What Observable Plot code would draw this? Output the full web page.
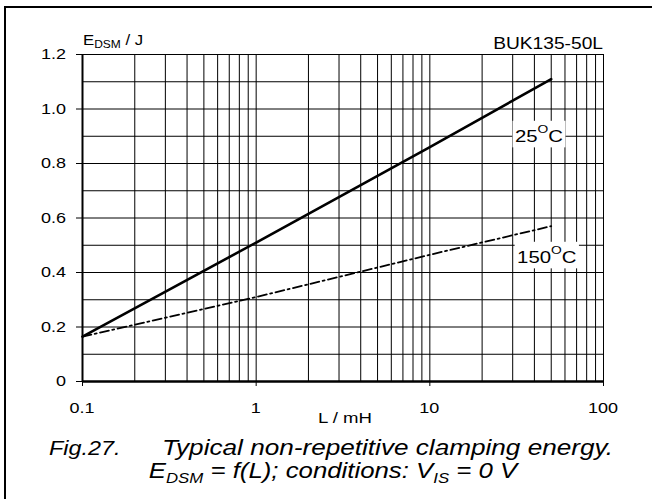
<!DOCTYPE html>
<html><head><meta charset="utf-8">
<script src="https://cdn.jsdelivr.net/npm/d3@7"></script>
<script src="https://cdn.jsdelivr.net/npm/@observablehq/plot@0.6"></script>
<style>
body{margin:0;background:#fff;}
#wrap{position:relative;width:652px;height:499px;overflow:hidden;font-family:"Liberation Sans",Arial,sans-serif;background:#fff;}
#frame{position:absolute;left:4px;top:6px;width:700px;height:600px;border-left:2px solid #000;border-top:2px solid #000;}
#chart{position:absolute;left:0;top:0;}
#cap{position:absolute;left:0;top:430px;}
</style></head>
<body><div id="wrap"><div id="frame"></div><div id="chart"></div><div id="cap"></div></div>
<script>
// Data (L in mH, E_DSM in J)
const inductance = [0.1, 1, 10, 50];
const energy25 = [0.165, 0.51, 0.86, 1.11];
const energy150 = [0.165, 0.31, 0.465, 0.57];

const xTicks = [0.1, 1, 10, 100];
const xTickLabels = ["0.1", "1", "10", "100"];
const yTicks = [0, 0.2, 0.4, 0.6, 0.8, 1.0, 1.2];
const yTickLabels = ["0", "0.2", "0.4", "0.6", "0.8", "1.0", "1.2"];
const xGrid = [0.1,0.2,0.3,0.4,0.5,0.6,0.7,0.8,0.9,1,2,3,4,5,6,7,8,9,10,20,30,40,50,60,70,80,90,100];
const yGrid = [0,0.1,0.2,0.3,0.4,0.5,0.6,0.7,0.8,0.9,1.0,1.1,1.2];

const seriesNames = ["25", "150"];
const labelX = [31.1, 32];
const labelY = [0.878, 0.434];

const rows25 = inductance.map((L, i) => ({L, E: energy25[i]}));
const rows150 = inductance.map((L, i) => ({L, E: energy150[i]}));

const SX = 1.2; // horizontal stretch of the reference lettering

const plot = Plot.plot({
  width: 652,
  height: 430,
  marginLeft: 82,
  marginRight: 49,
  marginTop: 54,
  marginBottom: 49,
  style: {fontFamily: "'Liberation Sans', Arial, sans-serif", fontSize: "15px", color: "#000", background: "transparent"},
  x: {type: "log", domain: [0.1, 100]},
  y: {domain: [0, 1.2]},
  marks: [
    Plot.ruleX(xGrid, {stroke: "#000", strokeWidth: 1}),
    Plot.ruleY(yGrid, {stroke: "#000", strokeWidth: 1}),
    Plot.ruleX([0.1], {stroke: "#000", strokeWidth: 2}),
    Plot.ruleY([0], {stroke: "#000", strokeWidth: 2.5}),
    Plot.axisY({ticks: yTicks, tickFormat: () => "", tickSize: 6, label: null}),
    Plot.axisX({ticks: xTicks, tickFormat: () => "", tickSize: 5, label: null}),
    Plot.line(rows25, {x: "L", y: "E", stroke: "#000", strokeWidth: 2.6}),
    Plot.line(rows150, {x: "L", y: "E", stroke: "#000", strokeWidth: 1.8, strokeDasharray: "9,3.5,2,3.5"})
  ]
});
document.getElementById("chart").append(plot);

const svg = d3.select(plot);
const sx = plot.scale("x"), sy = plot.scale("y");

function stext(parent, x, y, size, anchor) {
  const g = parent.append("g").attr("transform", `translate(${x},${y}) scale(${SX},1)`);
  return g.append("text").attr("font-size", size).attr("text-anchor", anchor).attr("fill", "#000")
    .attr("font-family", "'Liberation Sans', Arial, sans-serif");
}

// Tick labels (positions from Plot's scales)
yTicks.forEach((v, i) => {
  stext(svg, sx.apply(0.1) - 16, sy.apply(v) + 5, 15, "end").text(yTickLabels[i]);
});
xTicks.forEach((v, i) => {
  stext(svg, sx.apply(v), sy.apply(0) + 32, 15, "middle").text(xTickLabels[i]);
});

// Y title
const yt = stext(svg, sx.apply(0.1) + 1, 45, 14, "start");
yt.append("tspan").text("E");
yt.append("tspan").attr("font-size", 10).attr("dy", 3).text("DSM");
yt.append("tspan").attr("dy", -3).text(" / J");

// Device name
stext(svg, sx.apply(100), 49, 16, "end").text("BUK135-50L");

// X title
stext(svg, 345, 423, 15.5, "middle").text("L / mH");

// Series labels with white boxes
seriesNames.forEach((name, i) => {
  const t = stext(svg, sx.apply(labelX[i]), sy.apply(labelY[i]), 17, "start");
  t.append("tspan").text(name);
  t.append("tspan").attr("font-size", 11.5).attr("dy", -9).text("O");
  t.append("tspan").attr("dy", 9).text("C");
  const b = t.node().getBBox();
  d3.select(t.node().parentNode).insert("rect", "text")
    .attr("x", b.x - 2).attr("y", b.y - 2).attr("width", b.width + 4).attr("height", b.height + 4).attr("fill", "#fff");
});

// Caption
const cap = d3.select("#cap").append("svg").attr("width", 652).attr("height", 69)
  .style("font-style", "italic").style("overflow", "visible");
stext(cap, 49, 25, 19.5, "start").text("Fig.27.");
stext(cap, 162, 25, 21.8, "start").text("Typical non-repetitive clamping energy.");
const l2 = stext(cap, 333, 48, 21.5, "middle");
l2.append("tspan").text("E");
l2.append("tspan").attr("font-size", 14).attr("dy", 5).text("DSM");
l2.append("tspan").attr("dy", -5).text(" = f(L); conditions: V");
l2.append("tspan").attr("font-size", 14).attr("dy", 5).text("IS");
l2.append("tspan").attr("dy", -5).text(" = 0 V");
</script>
</body></html>
